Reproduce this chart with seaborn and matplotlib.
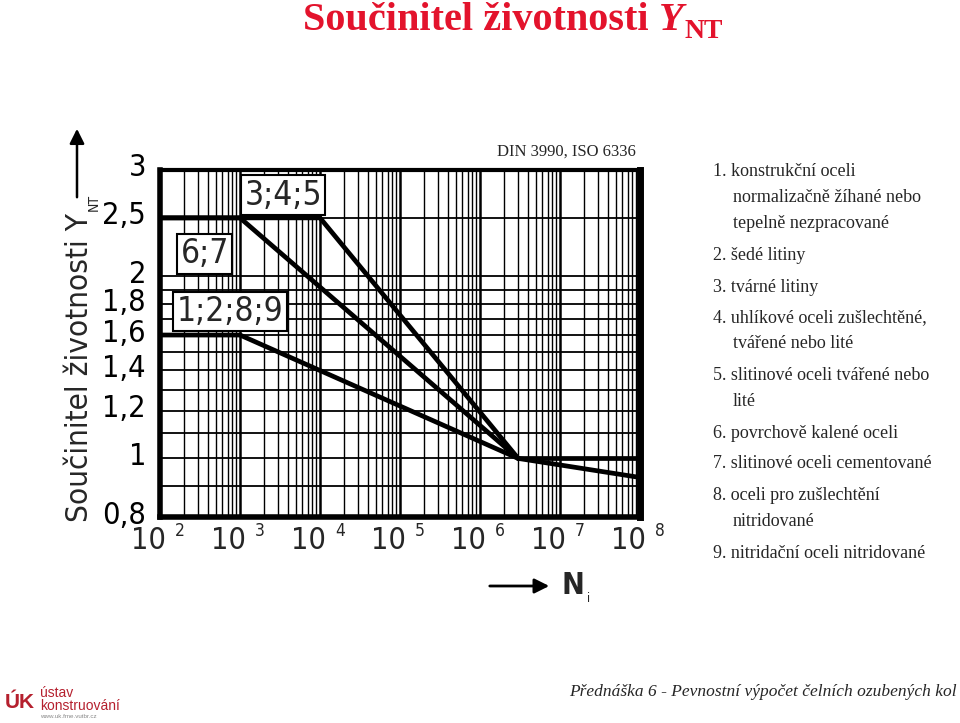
import matplotlib
matplotlib.use("Agg")
import matplotlib.pyplot as plt
import matplotlib.transforms as mtrans
from matplotlib import font_manager as fm
import seaborn as sns
import pandas as pd

# ---------------- data ----------------
curve_names = ["3;4;5", "6;7", "1;2;8;9", "tail_flat", "tail_down"]
n_345 = [1e2, 1e4, 3e6]
y_345 = [2.5, 2.5, 1.0]
n_67 = [1e2, 1e3, 3e6]
y_67 = [2.5, 2.5, 1.0]
n_1289 = [1e2, 1e3, 3e6]
y_1289 = [1.6, 1.6, 1.0]
n_flat = [3e6, 1e8]
y_flat = [1.0, 1.0]
n_down = [3e6, 1e8]
y_down = [1.0, 0.93]

x_decades = [1e2, 1e3, 1e4, 1e5, 1e6, 1e7, 1e8]
x_exps = ["2", "3", "4", "5", "6", "7", "8"]
y_ticks = [0.8, 1.0, 1.2, 1.4, 1.6, 1.8, 2.0, 2.5, 3.0]
y_ticklabels = ["0,8", "1", "1,2", "1,4", "1,6", "1,8", "2", "2,5", "3"]
y_grid = [0.9, 1.0, 1.1, 1.2, 1.3, 1.4, 1.5, 1.6, 1.7, 1.8, 1.9, 2.0, 2.5]

box_labels = ["3;4;5", "6;7", "1;2;8;9"]
box_x = [10**3.54, 10**2.56, 10**2.875]
box_y = [2.727, 2.18, 1.75]

legend_lines = [
    ("1. konstrukční oceli", 0),
    ("normalizačně žíhané nebo", 1),
    ("tepelně nezpracované", 1),
    ("2. šedé litiny", 0),
    ("3. tvárné litiny", 0),
    ("4. uhlíkové oceli zušlechtěné,", 0),
    ("tvářené nebo lité", 1),
    ("5. slitinové oceli tvářené nebo", 0),
    ("lité", 1),
    ("6. povrchově kalené oceli", 0),
    ("7. slitinové oceli cementované", 0),
    ("8. oceli pro zušlechtění", 0),
    ("nitridované", 1),
    ("9. nitridační oceli nitridované", 0),
]
legend_y_px = [172, 198, 224, 255, 287, 318, 344, 376, 402, 433, 464, 495, 521, 553]

# ---------------- fonts ----------------
sns.set_style("white")
serif = ["Liberation Serif", "DejaVu Serif"]
plt.rcParams["font.family"] = ["DejaVu Sans"]

def find_narrow(bold=False):
    files = [f.fname for f in fm.fontManager.ttflist]
    prefs_reg = ["LiberationSansNarrow-Regular", "DejaVuSansCondensed.ttf",
                 "NotoSans-Condensed.ttf", "NotoSans-SemiCondensed.ttf",
                 "RobotoCondensed-Regular", "Roboto-Regular"]
    prefs_bold = ["LiberationSansNarrow-Bold.", "DejaVuSansCondensed-Bold.ttf",
                  "NotoSans-CondensedBold.ttf", "NotoSans-SemiCondensedBold.ttf",
                  "RobotoCondensed-Bold", "Roboto-Bold"]
    for p in (prefs_bold if bold else prefs_reg):
        for f in files:
            if p in f.split("/")[-1] or p in f:
                return fm.FontProperties(fname=f)
    return fm.FontProperties(family="DejaVu Sans",
                             weight="bold" if bold else "normal")

NARROW = find_narrow()
NARROW_B = find_narrow(bold=True)

def fp(base, size):
    p = base.copy()
    p.set_size(size)
    return p

W, H = 960, 723
fig = plt.figure(figsize=(W / 100, H / 100), dpi=100)
fig.patch.set_facecolor("white")
ax = fig.add_axes([160 / W, (H - 517) / H, 480 / W, 347 / H])

ax.set_xscale("log")
ax.set_yscale("log")
ax.set_xlim(1e2, 1e8)
ax.set_ylim(0.8, 3.0)

# grid
minor_x = [m * 10**k for k in range(2, 8) for m in range(2, 10)]
for xv in minor_x:
    ax.axvline(xv, color="black", lw=1.0, zorder=1)
for xv in x_decades[1:-1]:
    ax.axvline(xv, color="black", lw=1.8, zorder=1)
for yv in y_grid:
    ax.axhline(yv, color="black", lw=1.3, zorder=1)

# data
frames = []
for name, n, y in zip(curve_names, [n_345, n_67, n_1289, n_flat, n_down],
                      [y_345, y_67, y_1289, y_flat, y_down]):
    frames.append(pd.DataFrame({"N": n, "Y": y, "curve": name}))
df = pd.concat(frames, ignore_index=True)
sns.lineplot(data=df, x="N", y="Y", units="curve", estimator=None, sort=False,
             color="black", lw=3.4, ax=ax, zorder=3, legend=False)

# label boxes
for lab, bx, by in zip(box_labels, box_x, box_y):
    ax.text(bx, by, lab, ha="center", va="center", fontproperties=fp(NARROW, 24),
            zorder=5,
            bbox=dict(boxstyle="square,pad=0.1", fc="white", ec="black", lw=1.5))

# ticks
ax.set_xticks(x_decades)
ax.set_xticklabels([""] * len(x_decades))
ax.set_yticks(y_ticks)
ax.set_yticklabels(y_ticklabels)
ax.minorticks_off()
ax.tick_params(axis="both", length=0, colors="black")
ax.tick_params(axis="y", pad=10)
ylab_shift = mtrans.ScaledTranslation(0, 5 / 100, fig.dpi_scale_trans)
for lbl in ax.get_yticklabels():
    lbl.set_fontproperties(fp(NARROW, 22))
    lbl.set_transform(lbl.get_transform() + ylab_shift)
ax.set_xlabel("")
ax.set_ylabel("")

xtrans = ax.get_xaxis_transform()
for xv, e in zip(x_decades, x_exps):
    t10 = mtrans.offset_copy(xtrans, fig=fig, x=6, y=-9, units="dots")
    ax.text(xv, 0, "10", transform=t10, ha="right", va="top",
            fontproperties=fp(NARROW, 22), clip_on=False)
    te = mtrans.offset_copy(xtrans, fig=fig, x=20, y=-5, units="dots")
    ax.text(xv, 0, e, transform=te, ha="center", va="top",
            fontproperties=fp(NARROW, 12.5), clip_on=False)

for side, lw in [("left", 4), ("bottom", 4), ("right", 5), ("top", 3)]:
    ax.spines[side].set_visible(True)
    ax.spines[side].set_linewidth(lw)
    ax.spines[side].set_color("black")

# y-axis label & arrow
fig.canvas.draw()
renderer = fig.canvas.get_renderer()
ylab = fig.text(80 / W, (H - 522) / H, "Součinitel životnosti Y",
                rotation=90, ha="center", va="bottom", fontproperties=fp(NARROW, 26))
ext = ylab.get_window_extent(renderer)
target = 522 - 212
if ext.height > 0:
    ylab.set_fontproperties(fp(NARROW, 26 * target / ext.height))
ext = ylab.get_window_extent(renderer)
top_px = ext.y1  # in display coords (from bottom)
fig.text(94 / W, (top_px + 2) / H, "NT", rotation=90, ha="center", va="bottom",
         fontproperties=fp(NARROW, 10))
ax.annotate("", xy=(77, H - 126), xytext=(77, H - 200), xycoords="figure pixels",
            textcoords="figure pixels", annotation_clip=False,
            arrowprops=dict(arrowstyle="-|>", lw=1.8, color="black", mutation_scale=22))

# x-axis label & arrow
ax.annotate("", xy=(552, H - 586), xytext=(487, H - 586), xycoords="figure pixels",
            textcoords="figure pixels", annotation_clip=False,
            arrowprops=dict(arrowstyle="-|>", lw=2.0, color="black", mutation_scale=22))
nlab = fig.text(561 / W, (H - 586) / H, "N", ha="left", va="center",
                fontproperties=fp(NARROW_B, 22))
ne = nlab.get_window_extent(renderer)
fig.text((ne.x1 + 3) / W, (H - 598) / H, "i", ha="left", va="center",
         fontproperties=fp(NARROW, 9))

# standard note
fig.text(497 / W, (H - 152) / H, "DIN 3990, ISO 6336", ha="left", va="center",
         fontsize=12, family=serif)

# legend list
for (txt, indent), ypx in zip(legend_lines, legend_y_px):
    fig.text((713 + (20 if indent else 0)) / W, (H - ypx) / H, txt, ha="left",
             va="center", fontsize=13, family=serif)

# title
title = fig.text(303 / W, (H - 20) / H, "Součinitel životnosti ", ha="left",
                 va="center", fontsize=29, family=serif, fontweight="bold",
                 color="#e3132c")
te = title.get_window_extent(renderer)
ty = fig.text(te.x1 / W, (H - 20) / H, "Y", ha="left", va="center", fontsize=29,
              family=serif, fontweight="bold", style="italic", color="#e3132c")
tye = ty.get_window_extent(renderer)
fig.text((tye.x1 + 1) / W, (H - 31) / H, "NT", ha="left", va="center", fontsize=20,
         family=serif, fontweight="bold", color="#e3132c")

# footer
fig.text(957 / W, (H - 692) / H,
         "Přednáška 6 - Pevnostní výpočet čelních ozubených kol",
         ha="right", va="center", fontsize=12.5, family=serif, style="italic")
fig.text(5 / W, (H - 703) / H, "ÚK", ha="left", va="center", fontsize=15,
         family=["Liberation Sans", "DejaVu Sans"], fontweight="bold", color="#b5202e")
fig.text(40 / W, (H - 693) / H, "ústav", ha="left", va="center", fontsize=10,
         family=["Liberation Sans", "DejaVu Sans"], color="#b5202e")
fig.text(40 / W, (H - 706) / H, "konstruování", ha="left", va="center", fontsize=10,
         family=["Liberation Sans", "DejaVu Sans"], color="#b5202e")
fig.text(40 / W, (H - 717) / H, "www.uk.fme.vutbr.cz", ha="left", va="center",
         fontsize=4.5, family=["Liberation Sans", "DejaVu Sans"], color="#888888")

fig.savefig("out.png", dpi=100, facecolor="white")
